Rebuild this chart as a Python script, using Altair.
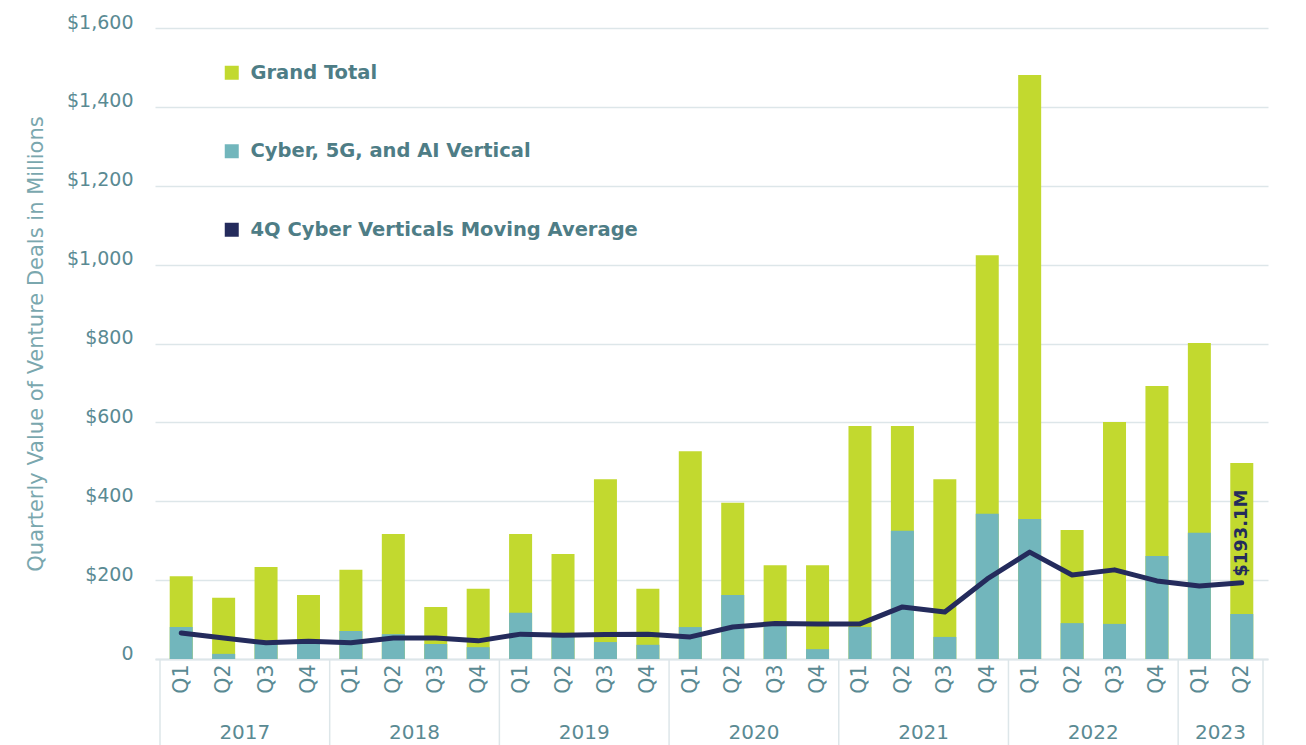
import altair as alt
import pandas as pd

quarters = ["Q1", "Q2", "Q3", "Q4", "Q1", "Q2", "Q3", "Q4", "Q1", "Q2", "Q3", "Q4",
            "Q1", "Q2", "Q3", "Q4", "Q1", "Q2", "Q3", "Q4", "Q1", "Q2", "Q3", "Q4",
            "Q1", "Q2"]
years = ["2017"] * 4 + ["2018"] * 4 + ["2019"] * 4 + ["2020"] * 4 + ["2021"] * 4 + ["2022"] * 4 + ["2023"] * 2
grand_total = [210, 155, 233, 162, 226, 317, 132, 178, 317, 266, 456, 178,
               527, 396, 238, 238, 591, 591, 456, 1024, 1481, 327, 601, 692,
               801, 497]
cyber = [81, 13, 38, 40, 71, 63, 38, 30, 117, 56, 43, 36,
         81, 162, 86, 25, 81, 325, 56, 368, 355, 91, 89, 261,
         320, 114]
moving_avg = [66, 53, 41, 45, 41, 53, 53, 46, 63, 60, 62, 63,
              56, 81, 90, 89, 89, 132, 119, 203, 271, 213, 226, 198,
              185, 193.1]

series_names = ["Grand Total", "Cyber, 5G, and AI Vertical", "4Q Cyber Verticals Moving Average"]
series_colors = ["#c2d92f", "#72b6bc", "#242b5c"]

df = pd.DataFrame({
    "idx": list(range(len(quarters))),
    "quarter": quarters,
    "year": years,
    "total": grand_total,
    "cyber": cyber,
    "ma": moving_avg,
})

year_list = list(dict.fromkeys(years))
year_df = pd.DataFrame({
    "year": year_list,
    "center": [sum(i for i, y in enumerate(years) if y == yr) / years.count(yr) for yr in year_list],
})
bounds = [min(i for i, y in enumerate(years) if y == yr) - 0.5 for yr in year_list] + [len(years) - 0.5]
bound_df = pd.DataFrame({"b": bounds})

W, H = 1113, 631
TEXT = "#5a8a93"
GRID = "#dde6e9"
FONT = "DejaVu Sans"

xscale = alt.Scale(domain=[-0.5, len(quarters) - 0.5], nice=False, zero=False)
q_expr = "[" + ",".join("'" + q + "'" for q in quarters) + "][datum.value]"
xaxis = alt.Axis(values=list(range(len(quarters))), labelExpr=q_expr, labelAngle=270,
                 ticks=False, grid=False, domainColor=GRID, domainWidth=2,
                 labelFontSize=20.5, labelColor=TEXT, labelPadding=5, title=None)
yscale = alt.Scale(domain=[0, 1600], nice=False)
ytitle = "Quarterly Value of Venture Deals in Millions"
yaxis = alt.Axis(values=list(range(0, 1601, 200)),
                 labelExpr="datum.value == 0 ? '0' : '$' + format(datum.value, ',')",
                 domain=False, ticks=False, gridColor=GRID, gridWidth=1.5,
                 labelFontSize=19, labelColor=TEXT, labelPadding=22, labelBaseline="alphabetic",
                 title=ytitle, titleFontSize=21, titleColor="#7aa7ae", titleFontWeight="normal",
                 titlePadding=20)

color_scale = alt.Scale(domain=series_names, range=series_colors)
legend = alt.Legend(
    title=None, orient="none", legendX=67, legendY=35, direction="vertical",
    symbolType="square", symbolSize=196, symbolStrokeWidth=0,
    labelFontSize=19.5, labelFontWeight="bold", labelColor="#4e7d86",
    labelLimit=0, rowPadding=57.5, labelOffset=9, padding=0,
)

base = alt.Chart(df)

green = base.transform_calculate(series="'Grand Total'").mark_bar(size=23).encode(
    x=alt.X("idx:Q", scale=xscale, axis=xaxis, title=None),
    y=alt.Y("total:Q", scale=yscale, axis=yaxis, title=ytitle),
    color=alt.Color("series:N", scale=color_scale, legend=legend),
)
teal = base.transform_calculate(series="'Cyber, 5G, and AI Vertical'").mark_bar(size=23).encode(
    x=alt.X("idx:Q", scale=xscale, axis=xaxis, title=None),
    y=alt.Y("cyber:Q", scale=yscale, axis=yaxis, title=ytitle),
    color=alt.Color("series:N", scale=color_scale, legend=legend),
)
line = base.mark_line(strokeWidth=5, color="#242b5c", strokeJoin="round", strokeCap="round").encode(
    x=alt.X("idx:Q", scale=xscale, axis=xaxis, title=None),
    y=alt.Y("ma:Q", scale=yscale, axis=yaxis, title=ytitle),
)
label = base.transform_filter(alt.datum.idx == len(quarters) - 1).transform_calculate(
    lab="'$' + format(datum.ma, '.1f') + 'M'"
).mark_text(angle=270, align="left", baseline="middle", dx=6, fontSize=18,
            fontWeight="bold", color="#242b5c").encode(
    x=alt.X("idx:Q", scale=xscale, axis=xaxis, title=None),
    y=alt.Y("ma:Q", scale=yscale, axis=yaxis, title=ytitle),
    text="lab:N",
)
sep = alt.Chart(bound_df).mark_rule(color=GRID, strokeWidth=1.5).encode(
    x=alt.X("b:Q", scale=xscale, axis=xaxis, title=None),
    y=alt.value(H),
    y2=alt.value(H + 90),
)
yr = alt.Chart(year_df).mark_text(fontSize=20, color=TEXT, baseline="middle").encode(
    x=alt.X("center:Q", scale=xscale, axis=xaxis, title=None),
    y=alt.value(H + 74),
    text="year:N",
)

chart = alt.layer(green, teal, line, label, sep, yr).properties(
    width=W, height=H,
    autosize=alt.AutoSizeParams(type="none"),
    padding={"left": 147, "top": 20, "right": 30, "bottom": 86},
).configure(font=FONT).configure_view(stroke=None)

chart.save("out.html", embed_options={"renderer": "svg", "actions": False})
